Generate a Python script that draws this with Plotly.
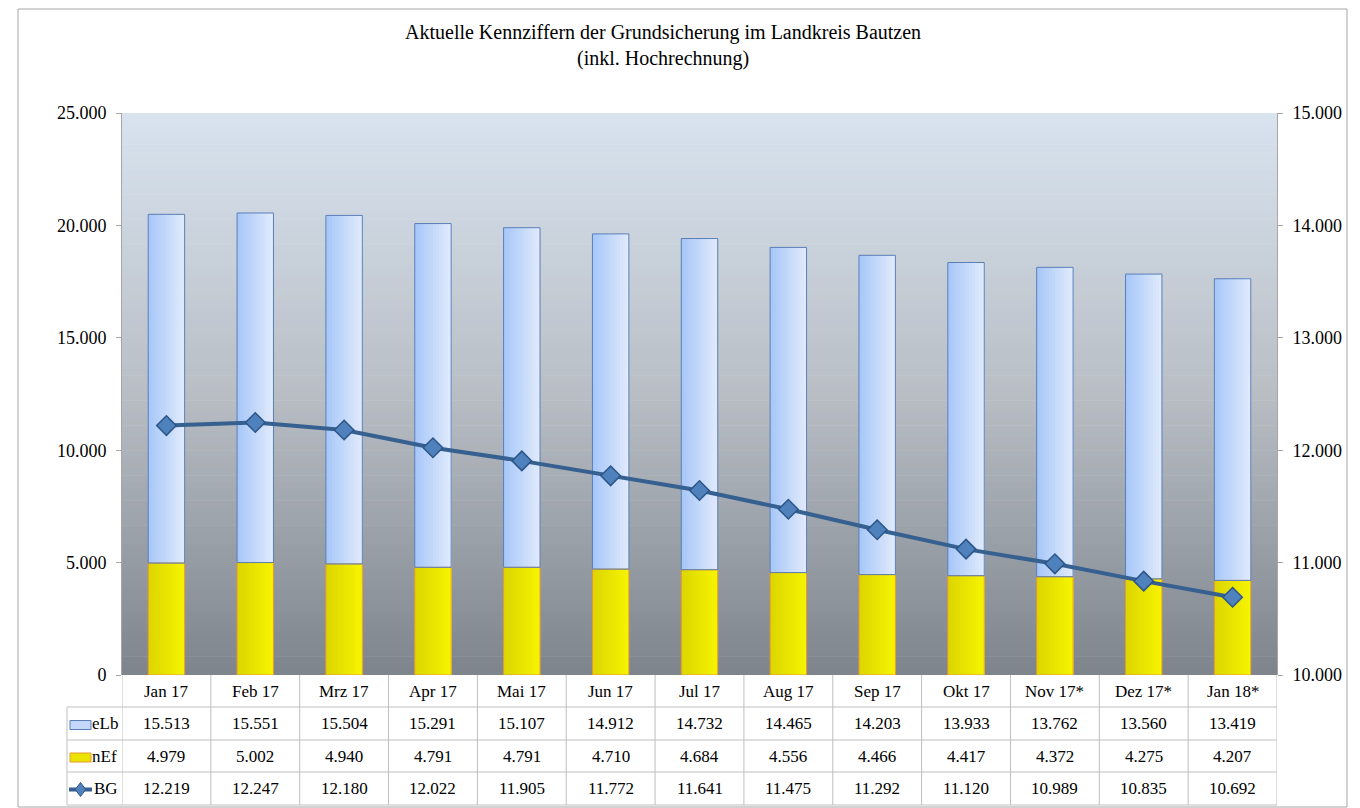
import plotly.graph_objects as go

# page body has an 8px margin: the figure is drawn at (8, 8)
OX, OY = 8, 8
W, H = 1352, 800

months = ["Jan 17", "Feb 17", "Mrz 17", "Apr 17", "Mai 17", "Jun 17", "Jul 17",
          "Aug 17", "Sep 17", "Okt 17", "Nov 17*", "Dez 17*", "Jan 18*"]
elb = [15513, 15551, 15504, 15291, 15107, 14912, 14732, 14465, 14203, 13933, 13762, 13560, 13419]
nef = [4979, 5002, 4940, 4791, 4791, 4710, 4684, 4556, 4466, 4417, 4372, 4275, 4207]
bg = [12219, 12247, 12180, 12022, 11905, 11772, 11641, 11475, 11292, 11120, 10989, 10835, 10692]
series_names = ["eLb", "nEf", "BG"]
title_lines = ["Aktuelle Kennziffern der Grundsicherung im Landkreis Bautzen",
               "(inkl. Hochrechnung)"]
left_ticks = [0, 5000, 10000, 15000, 20000, 25000]
right_ticks = [10000, 11000, 12000, 13000, 14000, 15000]

FONT = "Liberation Serif, Times New Roman, serif"
PL, PR, PT, PB = 122, 1277, 113, 675
KEY_L = 67
ROWS = [675, 707, 740, 772, 805]
GRID = "#bfbfbf"
BW = 0.41
ELB_L, ELB_R, ELB_EDGE = (168, 200, 249), (223, 233, 251), "#5a7fb8"
NEF_L, NEF_R, NEF_EDGE = (222, 214, 0), (245, 243, 0), "#e39a32"


def px(x):
    return (x - OX) / W


def py(y):
    return 1 - (y - OY) / H


def fmt(v):
    return f"{v:,}".replace(",", ".")


def mix(c0, c1, f):
    return "rgb(%d,%d,%d)" % tuple(round(a + (b - a) * f) for a, b in zip(c0, c1))


fig = go.Figure()

# bars with a left-to-right gradient: progressively narrower slices overlaid
K = 12
for base, vals, cl, cr, nm in [(None, nef, NEF_L, NEF_R, "nEf"), (nef, elb, ELB_L, ELB_R, "eLb")]:
    for j in range(K):
        off = -BW / 2 + j * BW / K
        fig.add_trace(go.Bar(x=months, y=vals, base=base, name=nm, width=BW - j * BW / K,
                             offset=off, hoverinfo="skip" if j else None,
                             marker=dict(color=mix(cl, cr, j / (K - 1)), line=dict(width=0))))
for base, vals, edge in [(None, nef, NEF_EDGE), (nef, elb, ELB_EDGE)]:
    fig.add_trace(go.Bar(x=months, y=vals, base=base, width=BW, offset=-BW / 2,
                         hoverinfo="skip",
                         marker=dict(color="rgba(0,0,0,0)", line=dict(color=edge, width=1))))

fig.add_trace(go.Scatter(x=months, y=bg, name="BG", yaxis="y2", mode="lines+markers",
                         line=dict(color="#35608f", width=4),
                         marker=dict(symbol="diamond", size=15, color="#4f81bd",
                                     line=dict(color="#2c5687", width=1.5))))

shapes = []

# background gradient of plot area
stops = [(0.0, (216, 227, 239)), (0.5, (185, 190, 197)), (1.0, (125, 132, 140))]


def col_at(t):
    for (t0, c0), (t1, c1) in zip(stops[:-1], stops[1:]):
        if t <= t1:
            f = (t - t0) / (t1 - t0)
            return tuple(round(a + (b - a) * f) for a, b in zip(c0, c1))
    return stops[-1][1]


N = 90
hstep = (PB - PT) / N
for i in range(N):
    y0 = PT + i * hstep
    y1 = min(PB, y0 + hstep + 0.6)
    c = col_at((i + 0.5) / N)
    shapes.append(dict(type="rect", xref="paper", yref="paper", layer="below",
                       x0=px(PL), x1=px(PR), y0=py(y1), y1=py(y0),
                       fillcolor=f"rgb{c}", line=dict(width=0)))

# outer border
shapes.append(dict(type="rect", xref="paper", yref="paper",
                   x0=px(18), x1=px(1347), y0=py(807), y1=py(9),
                   line=dict(color="#a6a6a6", width=1)))

# table grid
for y in ROWS[1:]:
    shapes.append(dict(type="line", xref="paper", yref="paper",
                       x0=px(KEY_L), x1=px(PR), y0=py(y), y1=py(y),
                       line=dict(color=GRID, width=1)))
for i in range(len(months) + 1):
    shapes.append(dict(type="line", xref="x", yref="paper",
                       x0=i - 0.5, x1=i - 0.5, y0=py(ROWS[0]), y1=py(ROWS[-1]),
                       line=dict(color=GRID, width=1)))
shapes.append(dict(type="line", xref="paper", yref="paper",
                   x0=px(KEY_L), x1=px(KEY_L), y0=py(ROWS[1]), y1=py(ROWS[-1]),
                   line=dict(color=GRID, width=1)))

# legend keys in table
row_c = [(ROWS[k] + ROWS[k + 1]) / 2 for k in range(4)]
shapes.append(dict(type="rect", xref="paper", yref="paper",
                   x0=px(70), x1=px(91), y0=py(row_c[1] + 6), y1=py(row_c[1] - 3),
                   fillcolor=mix(ELB_L, ELB_R, 0.5), line=dict(color=ELB_EDGE, width=1)))
shapes.append(dict(type="rect", xref="paper", yref="paper",
                   x0=px(70), x1=px(91), y0=py(row_c[2] + 6), y1=py(row_c[2] - 3),
                   fillcolor=mix(NEF_L, NEF_R, 0.5), line=dict(color=NEF_EDGE, width=1)))
shapes.append(dict(type="line", xref="paper", yref="paper",
                   x0=px(69), x1=px(92), y0=py(row_c[3] + 1), y1=py(row_c[3] + 1),
                   line=dict(color="#35608f", width=4)))
cx, cy = 80.5, row_c[3] + 1
d = 7
path = (f"M {px(cx)},{py(cy - d)} L {px(cx + d * 0.75)},{py(cy)} "
        f"L {px(cx)},{py(cy + d)} L {px(cx - d * 0.75)},{py(cy)} Z")
shapes.append(dict(type="path", xref="paper", yref="paper", path=path,
                   fillcolor="#4f81bd", line=dict(color="#2c5687", width=1)))

annotations = []
annotations.append(dict(text=title_lines[0], x=px(663), y=py(32), xref="paper", yref="paper",
                        showarrow=False, xanchor="center", yanchor="middle",
                        font=dict(family=FONT, size=20, color="#000000")))
annotations.append(dict(text=title_lines[1], x=px(663), y=py(58), xref="paper", yref="paper",
                        showarrow=False, xanchor="center", yanchor="middle",
                        font=dict(family=FONT, size=20, color="#000000")))

tfont = dict(family=FONT, size=17, color="#000000")
for i, m in enumerate(months):
    annotations.append(dict(text=m, x=m, y=py(row_c[0]), xref="x", yref="paper",
                            showarrow=False, xanchor="center", yanchor="middle", font=tfont))
    for k, vals in enumerate([elb, nef, bg]):
        annotations.append(dict(text=fmt(vals[i]), x=m, y=py(row_c[k + 1]), xref="x",
                                yref="paper", showarrow=False, xanchor="center",
                                yanchor="middle", font=tfont))
for k, nm in enumerate(series_names):
    annotations.append(dict(text=nm, x=px(92), y=py(row_c[k + 1]), xref="paper", yref="paper",
                            showarrow=False, xanchor="left", yanchor="middle", font=tfont,
                            xshift=-2 if k < 2 else 0))

axis_common = dict(showgrid=False, zeroline=False, showline=True, linecolor="#a6a6a6",
                   ticks="outside", ticklen=5, tickcolor="#a6a6a6", tickformat=",.0f",
                   automargin=False, ticklabelstandoff=6,
                   tickfont=dict(family=FONT, size=18, color="#000000"))

fig.update_layout(
    width=W, height=H,
    margin=dict(l=0, r=0, t=0, b=0, autoexpand=False),
    paper_bgcolor="#ffffff", plot_bgcolor="rgba(0,0,0,0)",
    barmode="overlay", showlegend=False, separators=",.",
    xaxis=dict(type="category", range=[-0.5, len(months) - 0.5],
               domain=[px(PL), px(PR)], showticklabels=False, ticks="",
               showgrid=False, zeroline=False, showline=False, automargin=False),
    yaxis=dict(domain=[py(PB), py(PT)], range=[0, 25000], tickvals=left_ticks, **axis_common),
    yaxis2=dict(overlaying="y", side="right", anchor="x", range=[10000, 15000],
                tickvals=right_ticks, **axis_common),
    shapes=shapes, annotations=annotations,
)

fig.write_html("out.html")
